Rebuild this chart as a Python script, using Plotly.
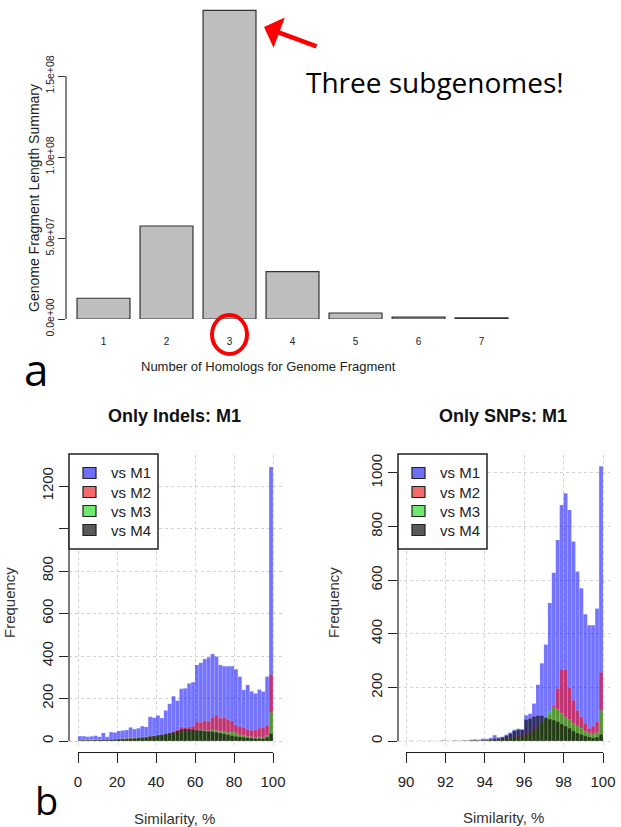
import plotly.graph_objects as go

W, H = 621, 827

def px(x):
    return x / W

def py(y):
    return 1 - y / H

# ---------------- Data: panel a ----------------
homologs = [1, 2, 3, 4, 5, 6, 7]
fragment_length = [1.28e7, 5.74e7, 1.905e8, 2.92e7, 3.7e6, 1.2e6, 0.7e6]
a_ytick_vals = [0, 5e7, 1e8, 1.5e8]
a_ytick_text = ["0.0e+00", "5.0e+07", "1.0e+08", "1.5e+08"]

# ---------------- Data: panel b, Indels ----------------
indel_bin_start = list(range(0, 100, 2))
indel_bin_width = 2
indel_vs_m1 = [23, 23, 20, 22, 25, 20, 38, 20, 42, 40, 47, 50, 52, 64, 56, 60, 70, 66, 114, 110,
               120, 108, 144, 175, 211, 190, 246, 248, 271, 277, 358, 368, 386, 394, 410, 398, 358, 352, 352, 352,
               338, 303, 241, 264, 234, 224, 242, 233, 303, 1290]
indel_vs_m2 = [5, 5, 4, 5, 6, 5, 8, 6, 8, 9, 10, 12, 12, 14, 14, 16, 18, 18, 22, 25,
               28, 30, 32, 38, 45, 52, 66, 64, 66, 70, 92, 88, 96, 92, 110, 122, 108, 110, 100, 95,
               76, 68, 64, 55, 50, 52, 60, 64, 74, 312]
indel_vs_m3 = [4, 4, 3, 4, 5, 4, 6, 5, 7, 8, 9, 10, 11, 12, 13, 14, 16, 17, 20, 22,
               25, 27, 30, 33, 36, 40, 45, 48, 46, 48, 50, 52, 50, 48, 52, 50, 47, 44, 40, 42,
               40, 30, 27, 22, 20, 18, 20, 18, 26, 135]
indel_vs_m4 = [4, 4, 4, 4, 5, 5, 6, 6, 7, 8, 9, 10, 11, 12, 13, 15, 17, 18, 22, 24,
               28, 30, 34, 38, 42, 48, 55, 58, 56, 55, 52, 50, 48, 46, 45, 42, 38, 34, 30, 26,
               22, 20, 18, 16, 14, 12, 12, 12, 18, 35]
indel_xticks = [0, 20, 40, 60, 80, 100]
indel_yticks = [0, 200, 400, 600, 800, 1000, 1200]
indel_ytick_text = ["0", "200", "400", "600", "800", "", "1200"]

# ---------------- Data: panel b, SNPs ----------------
snp_bin_start = [90 + 0.2 * i for i in range(50)]
snp_bin_width = 0.2
snp_vs_m1 = [1, 1, 0, 1, 0, 1, 1, 0, 1, 2, 1, 1, 2, 1, 2, 2, 5, 6, 5, 9,
             8, 12, 22, 14, 16, 24, 32, 42, 46, 44, 96, 102, 140, 210, 290, 360, 515, 628, 750, 880,
             924, 862, 744, 632, 570, 473, 432, 432, 494, 1025]
snp_vs_m2 = [0, 0, 0, 0, 0, 0, 0, 0, 0, 1, 0, 0, 1, 0, 1, 1, 1, 2, 1, 2,
             3, 4, 5, 6, 7, 9, 12, 15, 18, 20, 28, 35, 45, 55, 68, 82, 100, 132, 196, 268,
             266, 198, 152, 114, 90, 66, 47, 55, 72, 256]
snp_vs_m3 = [0, 0, 0, 0, 0, 0, 0, 0, 0, 0, 0, 0, 0, 0, 0, 1, 1, 1, 1, 1,
             2, 3, 4, 5, 6, 8, 10, 12, 14, 16, 22, 28, 38, 52, 70, 90, 110, 124, 118, 104,
             90, 80, 66, 56, 48, 36, 30, 26, 32, 114]
snp_vs_m4 = [0, 0, 0, 0, 0, 0, 0, 0, 0, 1, 0, 0, 1, 0, 1, 1, 2, 3, 2, 3,
             4, 6, 9, 10, 14, 20, 28, 38, 42, 42, 80, 84, 92, 95, 95, 88, 82, 78, 72, 64,
             56, 48, 38, 30, 25, 20, 15, 12, 15, 25]
snp_xticks = [90, 92, 94, 96, 98, 100]
snp_yticks = [0, 200, 400, 600, 800, 1000]

series_names = ["vs M1", "vs M2", "vs M3", "vs M4"]
series_colors = ["rgba(0,0,255,0.55)", "rgba(255,0,0,0.55)", "rgba(0,230,0,0.55)", "rgba(0,0,0,0.6)"]
legend_colors = ["#6f6ff6", "#f26a6a", "#6fe86f", "#5a5a5a"]

FONT = "Liberation Sans"
TXT = "#222222"

fig = go.Figure()

# panel a bars
fig.add_trace(go.Bar(
    x=homologs, y=fragment_length, width=0.84,
    marker=dict(color="#bebebe", line=dict(color="#333333", width=1.2)),
    xaxis="x", yaxis="y", showlegend=False))

def add_hist(starts, bw, series, xa, ya):
    centers = [s + bw / 2 for s in starts]
    for name, vals, col in zip(series_names, series, series_colors):
        fig.add_trace(go.Bar(
            x=centers, y=vals, width=bw,
            marker=dict(color=col, line=dict(width=0.4, color="rgba(255,255,255,0.35)")),
            xaxis=xa, yaxis=ya, showlegend=False, name=name))

add_hist(indel_bin_start, indel_bin_width,
         [indel_vs_m1, indel_vs_m2, indel_vs_m3, indel_vs_m4], "x2", "y2")
add_hist(snp_bin_start, snp_bin_width,
         [snp_vs_m1, snp_vs_m2, snp_vs_m3, snp_vs_m4], "x4", "y4")

# empty helper traces so the offset R-style x axes get drawn
for xa, ya in (("x3", "y3"), ("x5", "y5")):
    fig.add_trace(go.Scatter(x=[None], y=[None], xaxis=xa, yaxis=ya, mode="markers",
                             showlegend=False, hoverinfo="skip"))

tickfont_b = dict(family=FONT, size=15, color=TXT)
grid = dict(showgrid=True, gridcolor="#d2d2d2", griddash="dot", gridwidth=1)
strip_y = dict(range=[0, 1], showticklabels=False, showgrid=False, zeroline=False,
               showline=False, ticks="", automargin=False)

fig.update_layout(
    width=W, height=H,
    margin=dict(l=0, r=0, t=0, b=0, autoexpand=False),
    paper_bgcolor="white", plot_bgcolor="rgba(0,0,0,0)",
    barmode="overlay", showlegend=False, hovermode=False,
    font=dict(family=FONT, color=TXT),
    # panel a
    xaxis=dict(domain=[px(66), px(520)], range=[0.405, 7.61], anchor="y", automargin=False,
               tickmode="array", tickvals=homologs, ticktext=[str(h) for h in homologs],
               ticks="", showline=False, showgrid=False, zeroline=False,
               tickfont=dict(family=FONT, size=10, color=TXT), ticklabelstandoff=15),
    yaxis=dict(domain=[py(319), py(8)], range=[0, 1.92e8], anchor="x", automargin=False,
               tickmode="array", tickvals=a_ytick_vals, ticktext=a_ytick_text,
               tickangle=-90, ticks="outside", ticklen=7, tickcolor="#333",
               showline=False, showgrid=False, zeroline=False,
               tickfont=dict(family=FONT, size=10.5, color=TXT)),
    # panel b left
    xaxis2=dict(domain=[px(69), px(283)], range=[-4.615, 105.13], anchor="y2", automargin=False,
                tickmode="array", tickvals=indel_xticks, showticklabels=False, ticks="",
                zeroline=False, showline=False, **grid),
    yaxis2=dict(domain=[py(745), py(455)], range=[-18.8, 1346], anchor="x2", automargin=False,
                tickmode="array", tickvals=indel_yticks, ticktext=indel_ytick_text,
                tickangle=-90, ticks="outside", ticklen=9, tickcolor="#222",
                zeroline=False, showline=False, tickfont=tickfont_b, **grid),
    xaxis3=dict(domain=[px(78), px(273)], range=[0, 100], anchor="y3", automargin=False,
                tickmode="array", tickvals=indel_xticks, ticks="outside", ticklen=10,
                tickcolor="#222", showline=True, linecolor="#222", linewidth=1,
                showgrid=False, zeroline=False, tickfont=tickfont_b, ticklabelstandoff=6),
    yaxis3=dict(domain=[py(752), py(751)], anchor="x3", **strip_y),
    # panel b right
    xaxis4=dict(domain=[px(398), px(610)], range=[89.594, 100.355], anchor="y4", automargin=False,
                tickmode="array", tickvals=snp_xticks, showticklabels=False, ticks="",
                zeroline=False, showline=False, **grid),
    yaxis4=dict(domain=[py(745), py(455)], range=[-14.9, 1067], anchor="x4", automargin=False,
                tickmode="array", tickvals=snp_yticks, ticktext=[str(v) for v in snp_yticks],
                tickangle=-90, ticks="outside", ticklen=9, tickcolor="#222",
                zeroline=False, showline=False, tickfont=tickfont_b, **grid),
    xaxis5=dict(domain=[px(406), px(603)], range=[90, 100], anchor="y5", automargin=False,
                tickmode="array", tickvals=snp_xticks, ticks="outside", ticklen=10,
                tickcolor="#222", showline=True, linecolor="#222", linewidth=1,
                showgrid=False, zeroline=False, tickfont=tickfont_b, ticklabelstandoff=6),
    yaxis5=dict(domain=[py(752), py(751)], anchor="x5", **strip_y),
)

shapes = [
    # R-style y axis lines spanning the tick range
    dict(type="line", xref="x domain", yref="y", x0=0, x1=0, y0=a_ytick_vals[0], y1=a_ytick_vals[-1],
         line=dict(color="#333", width=1.2)),
    dict(type="line", xref="x2 domain", yref="y2", x0=0, x1=0, y0=indel_yticks[0], y1=indel_yticks[-1],
         line=dict(color="#222", width=1.2)),
    dict(type="line", xref="x4 domain", yref="y4", x0=0, x1=0, y0=snp_yticks[0], y1=snp_yticks[-1],
         line=dict(color="#222", width=1.2)),
    # red circle around "3"
    dict(type="circle", xref="paper", yref="paper", x0=px(212), x1=px(247), y0=py(354), y1=py(315),
         line=dict(color="red", width=4)),
]

def C(text, x, y, size, color=TXT, family=FONT, angle=0):
    return dict(text=text, x=px(x), y=py(y), xref="paper", yref="paper", showarrow=False,
                xanchor="center", yanchor="middle", textangle=angle,
                font=dict(family=family, size=size, color=color))

annotations = [
    C("Genome Fragment Length Summary", 34, 198, 14, angle=-90),
    C("Number of Homologs for Genome Fragment", 268, 366, 13),
    C("Three subgenomes!", 435, 82, 28, color="black", family="Open Sans"),
    dict(text="", x=px(264), y=py(27), ax=54, ay=20, xref="paper", yref="paper",
         axref="pixel", ayref="pixel", showarrow=True, arrowhead=1, arrowsize=1.2,
         arrowwidth=4.5, arrowcolor="red"),
    C("a", 36, 369, 44, color="black", family="Open Sans"),
    C("b", 46, 800, 38, color="black", family="Open Sans"),
    C("<b>Only Indels: M1</b>", 175, 416, 18, color="#111"),
    C("<b>Only SNPs: M1</b>", 503, 416, 18, color="#111"),
    C("Similarity, %", 175, 818, 15, color="#333"),
    C("Similarity, %", 503, 817, 15, color="#333"),
    C("Frequency", 9, 603, 15, color="#333", angle=-90),
    C("Frequency", 333, 603, 15, color="#333", angle=-90),
]

# R-style boxed legends (box, swatches, labels)
for left in (69, 398):
    shapes.append(dict(type="rect", xref="paper", yref="paper",
                       x0=px(left), x1=px(left + 89), y0=py(549), y1=py(454),
                       fillcolor="white", line=dict(color="#222", width=1.5), layer="above"))
    for i, (name, lcol) in enumerate(zip(series_names, legend_colors)):
        yc = 473 + 19 * i
        shapes.append(dict(type="rect", xref="paper", yref="paper",
                           x0=px(left + 14), x1=px(left + 27), y0=py(yc + 5.5), y1=py(yc - 5.5),
                           fillcolor=lcol, line=dict(color="#222", width=1.2), layer="above"))
        annotations.append(dict(text=name, x=px(left + 40), y=py(yc), xref="paper", yref="paper",
                                showarrow=False, xanchor="left", yanchor="middle",
                                font=dict(family=FONT, size=15, color=TXT)))

fig.update_layout(shapes=shapes, annotations=annotations)
fig.write_html("out.html", config={"displayModeBar": False},
               post_script="document.body.style.margin='0';document.body.style.overflow='hidden';")
